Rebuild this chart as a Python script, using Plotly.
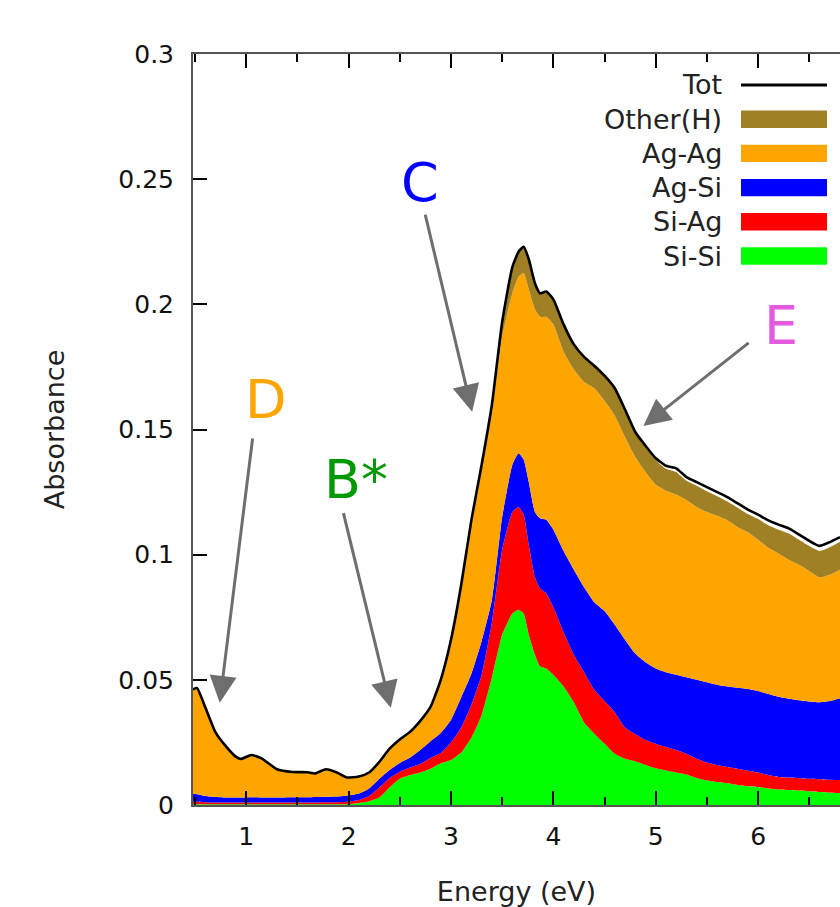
import plotly.graph_objects as go

# ---------------- data (upper edges of stacked bands) ----------------
energy = [0.48, 0.52, 0.60, 0.70, 0.80, 0.90, 0.95, 1.05, 1.15, 1.30, 1.45, 1.60, 1.67, 1.78, 1.88, 1.98,
          2.10, 2.20, 2.30, 2.40, 2.50, 2.60, 2.70, 2.80, 2.90,
          3.00, 3.10, 3.20, 3.30, 3.40, 3.50, 3.60, 3.66, 3.71, 3.76, 3.82, 3.87, 3.93,
          4.00, 4.10, 4.20, 4.30, 4.40, 4.50, 4.60, 4.70, 4.80, 4.90,
          5.00, 5.10, 5.20, 5.30, 5.40, 5.50, 5.60, 5.70, 5.80, 5.90,
          6.00, 6.10, 6.20, 6.30, 6.40, 6.50, 6.60, 6.70, 6.80]

tot = [0.0462, 0.0467, 0.0390, 0.0290, 0.0235, 0.0192, 0.0184, 0.0200, 0.0186, 0.0143, 0.0132, 0.0131, 0.0126, 0.0143, 0.0131, 0.0110,
       0.0114, 0.0130, 0.0172, 0.0225, 0.0262, 0.0292, 0.0336, 0.0392, 0.0500,
       0.0660, 0.0880, 0.1140, 0.1360, 0.1600, 0.1930, 0.2150, 0.2210, 0.2230, 0.2180, 0.2084, 0.2044, 0.2051,
       0.2020, 0.1920, 0.1840, 0.1790, 0.1755, 0.1715, 0.1665, 0.1580, 0.1490, 0.1435,
       0.1385, 0.1355, 0.1345, 0.1310, 0.1290, 0.1270, 0.1250, 0.1230, 0.1205, 0.1180,
       0.1160, 0.1137, 0.1120, 0.1105, 0.1080, 0.1055, 0.1035, 0.1050, 0.1070]

other_h_top = [0.0462, 0.0467, 0.0390, 0.0290, 0.0235, 0.0192, 0.0184, 0.0200, 0.0186, 0.0143, 0.0132, 0.0131, 0.0126, 0.0143, 0.0131, 0.0110,
               0.0114, 0.0130, 0.0172, 0.0225, 0.0262, 0.0292, 0.0336, 0.0392, 0.0500,
               0.0660, 0.0880, 0.1140, 0.1360, 0.1600, 0.1930, 0.2150, 0.2210, 0.2230, 0.2180, 0.2084, 0.2044, 0.2051,
               0.2020, 0.1920, 0.1840, 0.1790, 0.1755, 0.1715, 0.1660, 0.1575, 0.1485, 0.1428,
               0.1377, 0.1343, 0.1330, 0.1295, 0.1275, 0.1253, 0.1233, 0.1212, 0.1187, 0.1162,
               0.1142, 0.1118, 0.1100, 0.1085, 0.1060, 0.1035, 0.1015, 0.1030, 0.1052]

ag_ag_top = [0.0458, 0.0463, 0.0386, 0.0286, 0.0231, 0.0188, 0.0180, 0.0196, 0.0182, 0.0139, 0.0128, 0.0127, 0.0122, 0.0139, 0.0127, 0.0106,
             0.0110, 0.0126, 0.0168, 0.0220, 0.0257, 0.0287, 0.0330, 0.0385, 0.0492,
             0.0650, 0.0868, 0.1125, 0.1340, 0.1570, 0.1870, 0.2045, 0.2110, 0.2125, 0.2060, 0.1980, 0.1950, 0.1950,
             0.1920, 0.1810, 0.1740, 0.1690, 0.1665, 0.1615, 0.1555, 0.1470, 0.1390, 0.1330,
             0.1280, 0.1255, 0.1240, 0.1218, 0.1190, 0.1170, 0.1155, 0.1137, 0.1110, 0.1090,
             0.1060, 0.1028, 0.1005, 0.0980, 0.0960, 0.0935, 0.0910, 0.0920, 0.0940]

ag_si_top = [0.0045, 0.0043, 0.0036, 0.0032, 0.0030, 0.0030, 0.0030, 0.0031, 0.0030, 0.0030, 0.0031, 0.0031, 0.0032, 0.0033, 0.0034, 0.0037,
             0.0046, 0.0066, 0.0105, 0.0140, 0.0168, 0.0190, 0.0220, 0.0255, 0.0288,
             0.0340, 0.0430, 0.0525, 0.0655, 0.0820, 0.1150, 0.1360, 0.1405, 0.1380, 0.1290, 0.1170, 0.1145, 0.1139,
             0.1100, 0.1015, 0.0940, 0.0870, 0.0810, 0.0775, 0.0720, 0.0660, 0.0605, 0.0570,
             0.0545, 0.0530, 0.0520, 0.0510, 0.0500, 0.0490, 0.0480, 0.0473, 0.0468, 0.0463,
             0.0455, 0.0443, 0.0432, 0.0424, 0.0418, 0.0413, 0.0410, 0.0415, 0.0426]

si_ag_top = [0.0014, 0.0013, 0.0011, 0.0010, 0.0010, 0.0010, 0.0010, 0.0010, 0.0010, 0.0010, 0.0010, 0.0010, 0.0010, 0.0011, 0.0011, 0.0013,
             0.0020, 0.0036, 0.0070, 0.0108, 0.0133, 0.0150, 0.0164, 0.0188, 0.0208,
             0.0250, 0.0310, 0.0400, 0.0520, 0.0730, 0.1020, 0.1170, 0.1190, 0.1160, 0.1040, 0.0910, 0.0865, 0.0846,
             0.0790, 0.0690, 0.0600, 0.0530, 0.0460, 0.0415, 0.0370, 0.0310, 0.0283, 0.0260,
             0.0245, 0.0232, 0.0220, 0.0205, 0.0185, 0.0170, 0.0160, 0.0152, 0.0145, 0.0137,
             0.0130, 0.0120, 0.0112, 0.0110, 0.0107, 0.0105, 0.0103, 0.0101, 0.0100]

si_si_top = [0.0003, 0.0003, 0.0003, 0.0003, 0.0003, 0.0003, 0.0003, 0.0003, 0.0003, 0.0003, 0.0003, 0.0003, 0.0003, 0.0003, 0.0003, 0.0003,
             0.0008, 0.0015, 0.0030, 0.0070, 0.0105, 0.0120, 0.0130, 0.0145, 0.0167,
             0.0180, 0.0210, 0.0270, 0.0360, 0.0510, 0.0680, 0.0765, 0.0780, 0.0765, 0.0680, 0.0600, 0.0553, 0.0545,
             0.0520, 0.0473, 0.0410, 0.0330, 0.0285, 0.0245, 0.0205, 0.0185, 0.0175, 0.0160,
             0.0147, 0.0138, 0.0130, 0.0122, 0.0108, 0.0098, 0.0092, 0.0087, 0.0080, 0.0075,
             0.0072, 0.0066, 0.0062, 0.0060, 0.0058, 0.0055, 0.0052, 0.0050, 0.0047]

series_names = ["Si-Si", "Si-Ag", "Ag-Si", "Ag-Ag", "Other(H)"]
series_colors = ["#00ff00", "#ff0000", "#0000ff", "#ffa500", "#a08024"]
legend_order = ["Tot", "Other(H)", "Ag-Ag", "Ag-Si", "Si-Ag", "Si-Si"]

x_ticks = [1, 2, 3, 4, 5, 6]
y_ticks = [0, 0.05, 0.1, 0.15, 0.2, 0.25, 0.3]
y_tick_text = ["0", "0.05", "0.1", "0.15", "0.2", "0.25", "0.3"]

FONT = "DejaVu Sans"

# ---------------- figure ----------------
fig = go.Figure()
tops = [si_si_top, si_ag_top, ag_si_top, ag_ag_top, other_h_top]
for i, (name, col, top) in enumerate(zip(series_names, series_colors, tops)):
    fig.add_trace(go.Scatter(
        x=energy, y=top, name=name, mode="lines",
        line=dict(width=0, color=col, shape="spline", smoothing=0.5),
        fill="tozeroy" if i == 0 else "tonexty", fillcolor=col,
        showlegend=False, hoverinfo="skip"))

fig.add_trace(go.Scatter(x=energy, y=tot, name="Tot", mode="lines",
                         line=dict(color="black", width=2.6, shape="spline", smoothing=0.5),
                         showlegend=False, hoverinfo="skip"))

# page body margin is removed below, so figure coords = screen coords
W, H = 840, 907
L, R, T, B = 193, 840, 54, 805


def px(xp):
    return (xp - L) / (R - L)


def py(yp):
    return (B - yp) / (B - T)


shapes = []
annotations = []
key_colors = {"Tot": "black", **dict(zip(series_names, series_colors))}
for k, name in enumerate(legend_order):
    yc = 85 + 34.2 * k
    annotations.append(dict(xref="paper", yref="paper", x=px(724), y=py(yc), text=name,
                            showarrow=False, xanchor="right", yanchor="middle",
                            font=dict(family=FONT, size=27, color="#222")))
    if name == "Tot":
        shapes.append(dict(type="line", xref="paper", yref="paper", x0=px(741), x1=px(827),
                           y0=py(yc), y1=py(yc), line=dict(color="black", width=3)))
    else:
        shapes.append(dict(type="rect", xref="paper", yref="paper", x0=px(741), x1=px(827),
                           y0=py(yc - 8.7), y1=py(yc + 8.7), fillcolor=key_colors[name],
                           line=dict(width=0)))

# labelled arrows (tail -> head in data coordinates)
arrow_col = "#6e6e6e"
arrows = [((1.064, 0.147), (0.741, 0.0408)),
          ((1.946, 0.1172), (2.412, 0.0388)),
          ((2.745, 0.2364), (3.207, 0.1571)),
          ((5.922, 0.1851), (4.879, 0.1514))]
for (tx, ty), (hx, hy) in arrows:
    annotations.append(dict(x=hx, y=hy, ax=tx, ay=ty, xref="x", yref="y", axref="x", ayref="y",
                            text="", showarrow=True, arrowhead=2, arrowsize=1.8, arrowwidth=3,
                            arrowcolor=arrow_col, standoff=0, startstandoff=0))

labels = [("D", 1.19, 0.1618, "#ffa500"),
          ("B*", 2.07, 0.1302, "#009900"),
          ("C", 2.696, 0.2485, "#0000ff"),
          ("E", 6.225, 0.1914, "#e55be0")]
for txt, lx, ly, col in labels:
    annotations.append(dict(x=lx, y=ly, xref="x", yref="y", text=txt, showarrow=False,
                            xanchor="center", yanchor="middle",
                            font=dict(family=FONT, size=54, color=col)))

fig.update_layout(
    width=W, height=H,
    margin=dict(l=L, r=W - R, t=T, b=H - B, autoexpand=False),
    paper_bgcolor="white", plot_bgcolor="white",
    font=dict(family=FONT, color="#111"),
    shapes=shapes, annotations=annotations, showlegend=False, hovermode=False,
    xaxis=dict(range=[0.48, 6.80], tickvals=x_ticks, ticks="inside", ticklen=14, tickwidth=1.5,
               tickcolor="black", minor=dict(dtick=0.5, tick0=0, ticks="inside", ticklen=8,
                                             tickwidth=1.5, tickcolor="black"),
               showline=True, linecolor="#555", linewidth=2, mirror="ticks",
               showgrid=False, zeroline=False, layer="above traces", automargin=False,
               tickfont=dict(family=FONT, size=25, color="#111"), ticklabelstandoff=8,
               title=dict(text="Energy (eV)", font=dict(family=FONT, size=27, color="#222"), standoff=34)),
    yaxis=dict(range=[0, 0.3], tickvals=y_ticks, ticktext=y_tick_text, ticks="inside", ticklen=14,
               tickwidth=1.5, tickcolor="black", showline=True, linecolor="#555", linewidth=2,
               mirror=False, showgrid=False, zeroline=False, layer="above traces", automargin=False,
               tickfont=dict(family=FONT, size=25, color="#111"), ticklabelstandoff=12,
               title=dict(text="Absorbance", font=dict(family=FONT, size=27, color="#222"), standoff=46)),
)

fig.write_html("out.html", config={"displayModeBar": False},
               post_script="document.body.style.margin='0';document.body.style.overflow='hidden';")
